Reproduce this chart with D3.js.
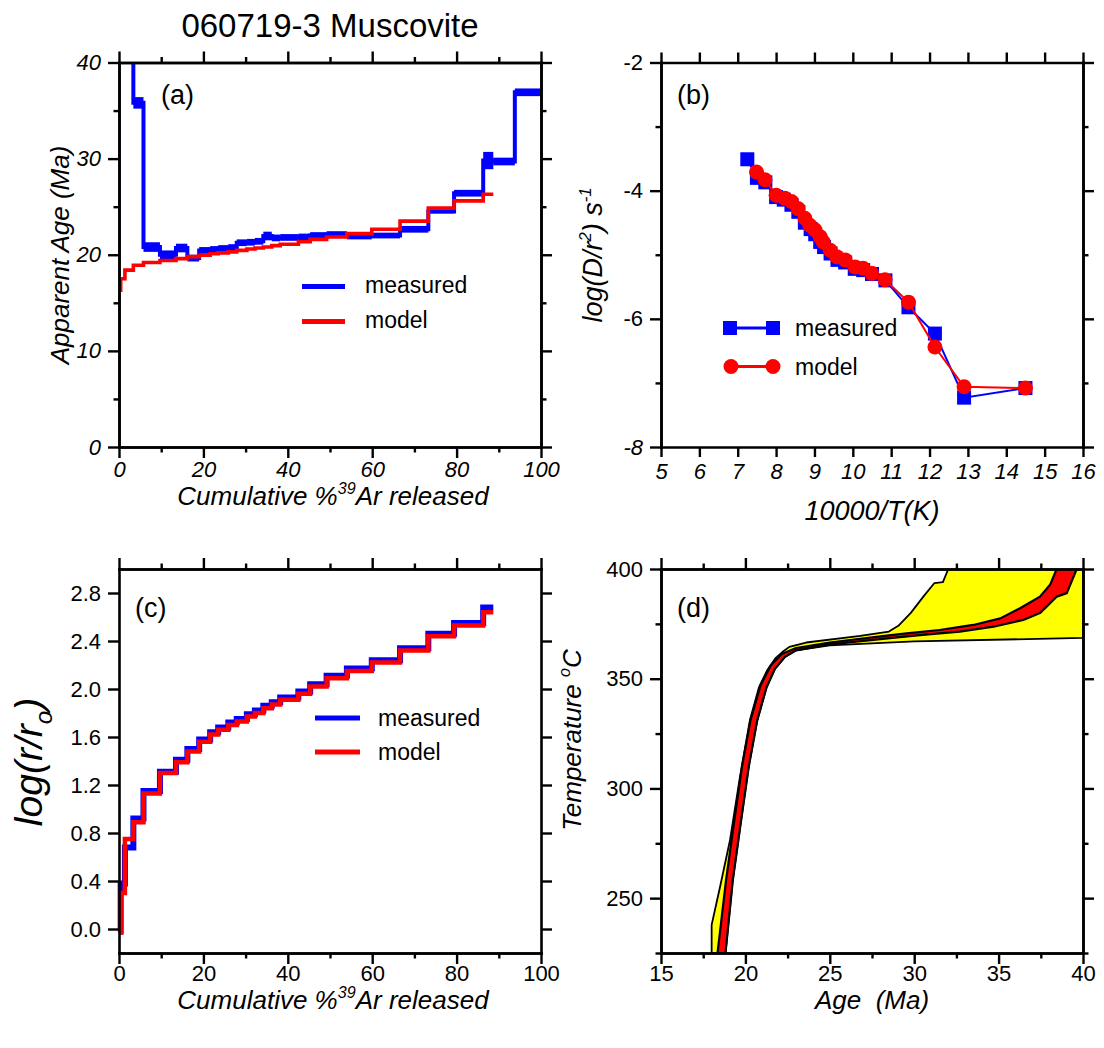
<!DOCTYPE html>
<html><head><meta charset="utf-8">
<script src="https://cdn.jsdelivr.net/npm/d3@7"></script>
<style>
body{margin:0;background:#fff;}
svg text{font-family:"Liberation Sans",Arial,Helvetica,sans-serif;fill:#000;}
</style></head><body>
<script>
// ---- Step-heating data: cumulative % 39Ar released at the step edges ----
const stepEdges = [0,0.4,1.4,3.4,5.8,9.7,13.5,16.2,19.0,21.6,23.5,25.9,27.9,30.3,32.2,34.2,36.2,38.2,42.5,45.3,49.2,54.0,59.9,66.6,73.3,79.4,86.3,88.7,93.8,100];
// measured apparent ages (Ma) and 1-sigma errors, one per step
const measuredAge = [48,46,44,35.8,20.8,20.0,20.7,19.65,20.45,20.55,20.65,20.75,21.25,21.3,21.4,21.95,21.75,21.8,21.85,22.0,22.1,21.95,22.0,22.65,24.5,26.4,29.8,29.7,36.9];
const measuredErr = [1,1,1,0.6,0.5,0.45,0.45,0.35,0.35,0.35,0.35,0.35,0.35,0.35,0.35,0.45,0.35,0.35,0.35,0.35,0.35,0.35,0.3,0.35,0.2,0.35,0.9,0.4,0.4];
// model ages (Ma) for the modelled steps
const modelAge = [16.3,17.5,18.4,18.9,19.2,19.4,19.6,19.8,19.95,20.1,20.2,20.3,20.45,20.6,20.7,20.8,20.95,21.1,21.35,21.6,21.85,22.2,22.65,23.5,24.85,25.6,26.3];
// log(r/ro) per modelled step
const measuredLogR = [-0.02,0.38,0.68,0.92,1.15,1.31,1.41,1.50,1.58,1.64,1.68,1.72,1.75,1.79,1.82,1.86,1.89,1.93,1.98,2.04,2.11,2.17,2.24,2.34,2.46,2.55,2.68];
const modelLogR = [-0.03,0.30,0.75,0.89,1.13,1.30,1.39,1.48,1.56,1.62,1.66,1.70,1.73,1.77,1.80,1.84,1.87,1.91,1.96,2.02,2.09,2.15,2.22,2.32,2.44,2.53,2.64];

// ---- Arrhenius data ----
const measuredInvT = [7.25,7.5,7.72,8.0,8.2,8.4,8.58,8.75,8.9,9.02,9.15,9.25,9.42,9.6,9.8,10.05,10.27,10.5,10.85,11.45,12.14,12.9,14.5];
const measuredLogD = [-3.51,-3.8,-3.87,-4.1,-4.14,-4.22,-4.33,-4.5,-4.6,-4.68,-4.8,-4.88,-4.98,-5.08,-5.12,-5.22,-5.24,-5.3,-5.4,-5.82,-6.23,-7.23,-7.08];
const modelInvT = [7.49,7.71,8.0,8.23,8.4,8.57,8.75,8.88,9.01,9.15,9.23,9.41,9.58,9.8,10.06,10.27,10.49,10.84,11.45,12.14,12.9,14.5];
const modelLogD = [-3.71,-3.83,-4.07,-4.12,-4.17,-4.28,-4.43,-4.54,-4.61,-4.72,-4.80,-4.93,-5.03,-5.08,-5.19,-5.21,-5.29,-5.39,-5.74,-6.44,-7.06,-7.08];

// ---- Thermal history envelopes: [age Ma, temperature C] ----
const goodFitAge  = [18.0,18.0,18.5,19.09,19.68,20.27,20.8,21.3,21.8,22.25,22.6,23.6,26.8,28.5,29.06,29.8,30.6,31.2,31.7,32.02,40,40,30,25,23,22.35,21.75,21.25,20.7,20.2,19.7,19.25,18.82];
const goodFitTemp = [225,237.8,255.2,276.5,305.4,331.2,346,354,359.5,362.5,364.5,366.5,369.5,371.5,374.1,380,388,393.6,394,400,400,368.6,367,365.2,362.9,360,354.5,346,331,310,283,258,225];
const bestFitAge  = [18.35,18.85,19.3,19.8,20.3,20.9,21.5,22.15,23,25,28,29.55,31.5,33.5,35.1,36.27,37.45,38.05,38.44,39.63,39.04,38.44,37.45,36.46,34.7,32.7,30.5,28.57,25,23,22.35,21.75,21.25,20.7,20.2,19.7,19.25,18.82];
const bestFitTemp = [225,258,283,310,331,347,356,361.3,364,366.5,369.3,370.7,372.2,374.5,377.5,382.1,387.4,392.8,400,400,389,387.4,379.9,376.8,373.7,371.5,370,368.5,365.6,362.9,360,354.5,346,331,310,283,258,225];

// ---- tick values ----
const ticksA_xMajor = [0,20,40,60,80,100], ticksA_xMinor = [10,30,50,70,90];
const ticksA_yMajor = [0,10,20,30,40], ticksA_yMinor = [5,15,25,35];
const ticksB_x = [5,6,7,8,9,10,11,12,13,14,15,16];
const ticksB_yMajor = [-8,-6,-4,-2], ticksB_yMinor = [-7,-5,-3];
const ticksC_y = [0,0.4,0.8,1.2,1.6,2.0,2.4,2.8];
const ticksD_xMajor = [15,20,25,30,35,40], ticksD_xMinor = [17.5,22.5,27.5,32.5,37.5];
const ticksD_yMajor = [250,300,350,400], ticksD_yMinor = [225,275,325,375];

const BLUE = "#0000ff", RED = "#ff0000", YELLOW = "#ffff00";
const W = 1104, H = 1048;
const svg = d3.select("body").append("svg").attr("width", W).attr("height", H);

// panel frames
const PA = {l:119, r:541, t:62.5, b:447};
const PB = {l:661, r:1083, t:62.5, b:447};
const PC = {l:119, r:541, t:569, b:953};
const PD = {l:661, r:1083, t:569, b:953};

const TICK_FONT = 22;
const plain = d => String(d);

function addAxis(kind, scale, tx, ty, values, size, opts) {
  opts = opts || {};
  const ax = d3[kind](scale).tickValues(values).tickSizeInner(size).tickSizeOuter(0)
    .tickPadding(opts.pad != null ? opts.pad : 5);
  if (!opts.labels) ax.tickFormat("");
  else ax.tickFormat(opts.fmt || plain);
  const a = svg.append("g").attr("transform", `translate(${tx},${ty})`).call(ax);
  a.attr("font-size", null).attr("font-family", null);
  a.select(".domain").attr("stroke", "#000").attr("stroke-width", 2.6).attr("stroke-linecap", "square");
  a.selectAll(".tick line").attr("stroke", "#000").attr("stroke-width", 2.4);
  a.selectAll(".tick text").attr("font-size", TICK_FONT)
    .style("font-style", d => (opts.italic && opts.italic(d)) ? "italic" : "normal");
  return a;
}

function frame(P, x, y, cfg) {
  addAxis("axisBottom", x, 0, P.b, cfg.xMajor, cfg.xMajorSize || 11, {labels:true, fmt:cfg.xFmt, italic:cfg.xItalic, pad:cfg.xPad});
  if (cfg.xMinor) addAxis("axisBottom", x, 0, P.b, cfg.xMinor, 5.5);
  addAxis("axisTop", x, 0, P.t, cfg.xMajor, cfg.xMajorSize || 11);
  if (cfg.xMinor) addAxis("axisTop", x, 0, P.t, cfg.xMinor, 5.5);
  addAxis("axisLeft", y, P.l, 0, cfg.yMajor, 11, {labels:true, fmt:cfg.yFmt, italic:cfg.yItalic, pad:cfg.yPad});
  if (cfg.yMinor) addAxis("axisLeft", y, P.l, 0, cfg.yMinor, 5.5);
  addAxis("axisRight", y, P.r, 0, cfg.yMajor, 11);
  if (cfg.yMinor) addAxis("axisRight", y, P.r, 0, cfg.yMinor, 5.5);
}

function clip(id, P) {
  svg.append("clipPath").attr("id", id).append("rect")
    .attr("x", P.l).attr("y", P.t).attr("width", P.r - P.l).attr("height", P.b - P.t);
}

function stepPoints(vals) {
  const pts = vals.map((v, i) => [stepEdges[i], v]);
  pts.push([stepEdges[vals.length], vals[vals.length - 1]]);
  return pts;
}

function text(x, y, str, size, opts) {
  opts = opts || {};
  const t = svg.append("text").attr("x", x).attr("y", y).attr("font-size", size)
    .attr("text-anchor", opts.anchor || "start").style("white-space", "pre");
  if (str) t.text(str);
  if (opts.italic) t.style("font-style", "italic");
  if (opts.rotate) t.attr("transform", `rotate(-90,${x},${y})`);
  return t;
}

function richText(x, y, parts, size, opts) {
  const t = text(x, y, "", size, opts);
  parts.forEach(p => {
    const s = t.append("tspan").text(p.t);
    if (p.sup) s.attr("font-size", size * 0.62).attr("dy", -size * 0.42);
    if (p.sub) s.attr("font-size", size * 0.62).attr("dy", size * 0.25);
    if (p.back) s.attr("dy", p.back * size);
  });
  return t;
}

// ---- title ----
text(330, 37, "060719-3 Muscovite", 33, {anchor:"middle"});

// ================= (a) age spectrum =================
const xA = d3.scaleLinear().domain([0, 100]).range([PA.l, PA.r]);
const yA = d3.scaleLinear().domain([0, 40]).range([PA.b, PA.t]);
clip("clipA", PA);
const gA = svg.append("g").attr("clip-path", "url(#clipA)");
gA.selectAll("rect.meas").data(measuredAge).enter().append("rect")
  .attr("x", (d, i) => xA(stepEdges[i]))
  .attr("width", (d, i) => xA(stepEdges[i + 1]) - xA(stepEdges[i]))
  .attr("y", (d, i) => yA(d + measuredErr[i]))
  .attr("height", (d, i) => yA(d - measuredErr[i]) - yA(d + measuredErr[i]))
  .attr("fill", BLUE);
const stepLineA = d3.line().x(d => xA(d[0])).y(d => yA(d[1])).curve(d3.curveStepAfter);
gA.append("path").attr("d", stepLineA(stepPoints(measuredAge)))
  .attr("fill", "none").attr("stroke", BLUE).attr("stroke-width", 4);
gA.append("path").attr("d", stepLineA(stepPoints(modelAge)))
  .attr("fill", "none").attr("stroke", RED).attr("stroke-width", 3.6);

frame(PA, xA, yA, {xMajor:ticksA_xMajor, xMinor:ticksA_xMinor, yMajor:ticksA_yMajor, yMinor:ticksA_yMinor,
  xItalic:() => true, yItalic:() => true, xPad:3, yPad:7});
text(161, 104, "(a)", 27);
// legend
svg.append("line").attr("x1", 302).attr("x2", 345).attr("y1", 286.5).attr("y2", 286.5).attr("stroke", BLUE).attr("stroke-width", 5);
svg.append("line").attr("x1", 302).attr("x2", 345).attr("y1", 321.5).attr("y2", 321.5).attr("stroke", RED).attr("stroke-width", 5);
text(365, 293, "measured", 23);
text(365, 328, "model", 23);
// axis titles
text(69, 255, "Apparent Age (Ma)", 26, {anchor:"middle", italic:true, rotate:true});
richText(333, 505, [{t:"Cumulative %"}, {t:"39", sup:true}, {t:"Ar released", back:0.42}], 26, {anchor:"middle", italic:true});

// ================= (b) Arrhenius plot =================
const xB = d3.scaleLinear().domain([5, 16]).range([PB.l, PB.r]);
const yB = d3.scaleLinear().domain([-8, -2]).range([PB.b, PB.t]);
const lineB = d3.line().x(d => xB(d[0])).y(d => yB(d[1]));
const measPts = measuredInvT.map((v, i) => [v, measuredLogD[i]]);
const modPts = modelInvT.map((v, i) => [v, modelLogD[i]]);
svg.append("path").attr("d", lineB(measPts)).attr("fill", "none").attr("stroke", BLUE).attr("stroke-width", 2);
svg.selectAll("rect.sq").data(measPts).enter().append("rect")
  .attr("x", d => xB(d[0]) - 7).attr("y", d => yB(d[1]) - 7).attr("width", 14).attr("height", 14).attr("fill", BLUE);
svg.append("path").attr("d", lineB(modPts)).attr("fill", "none").attr("stroke", RED).attr("stroke-width", 2);
svg.selectAll("circle.md").data(modPts).enter().append("circle")
  .attr("cx", d => xB(d[0])).attr("cy", d => yB(d[1])).attr("r", 7.5).attr("fill", RED);

frame(PB, xB, yB, {xMajor:ticksB_x, xMajorSize:10, yMajor:ticksB_yMajor, yMinor:ticksB_yMinor,
  xItalic:() => true, yItalic:d => d === -8, xPad:6, yPad:7});
text(677, 104, "(b)", 27);
// legend
svg.append("line").attr("x1", 730).attr("x2", 773).attr("y1", 328).attr("y2", 328).attr("stroke", BLUE).attr("stroke-width", 3);
[730, 773].forEach(x => svg.append("rect").attr("x", x - 7).attr("y", 321).attr("width", 14).attr("height", 14).attr("fill", BLUE));
svg.append("line").attr("x1", 731).attr("x2", 773).attr("y1", 366.5).attr("y2", 366.5).attr("stroke", RED).attr("stroke-width", 3);
[731, 773].forEach(x => svg.append("circle").attr("cx", x).attr("cy", 366.5).attr("r", 7.5).attr("fill", RED));
text(795, 336, "measured", 23);
text(795, 375, "model", 23);
// axis titles
richText(602, 255, [{t:"log(D/r"}, {t:"2", sup:true}, {t:") s", back:0.42}, {t:"-1", sup:true}], 27, {anchor:"middle", italic:true, rotate:true});
text(872, 520, "10000/T(K)", 27, {anchor:"middle", italic:true});

// ================= (c) log(r/ro) =================
const xC = d3.scaleLinear().domain([0, 100]).range([PC.l, PC.r]);
const yC = d3.scaleLinear().domain([-0.2, 3.0]).range([PC.b, PC.t]);
const stepLineC = d3.line().x(d => xC(d[0])).y(d => yC(d[1])).curve(d3.curveStepAfter);
svg.append("path").attr("d", stepLineC(stepPoints(measuredLogR)))
  .attr("fill", "none").attr("stroke", BLUE).attr("stroke-width", 6);
svg.append("path").attr("d", stepLineC(stepPoints(modelLogR)))
  .attr("fill", "none").attr("stroke", RED).attr("stroke-width", 4.5);

frame(PC, xC, yC, {xMajor:ticksA_xMajor, xMinor:ticksA_xMinor, yMajor:ticksC_y, yFmt:d3.format(".1f"), xPad:1, yPad:7});
text(135, 617, "(c)", 27);
svg.append("line").attr("x1", 315).attr("x2", 360).attr("y1", 718).attr("y2", 718).attr("stroke", BLUE).attr("stroke-width", 5);
svg.append("line").attr("x1", 315).attr("x2", 360).attr("y1", 752).attr("y2", 752).attr("stroke", RED).attr("stroke-width", 5);
text(378, 726, "measured", 23);
text(378, 760, "model", 23);
richText(42, 762, [{t:"log(r/r"}, {t:"o", sub:true}, {t:")", back:-0.25}], 39, {anchor:"middle", italic:true, rotate:true});
richText(333, 1009, [{t:"Cumulative %"}, {t:"39", sup:true}, {t:"Ar released", back:0.42}], 26, {anchor:"middle", italic:true});

// ================= (d) thermal history =================
const xD = d3.scaleLinear().domain([15, 40]).range([PD.l, PD.r]);
const yD = d3.scaleLinear().domain([225, 400]).range([PD.b, PD.t]);
clip("clipD", PD);
const gD = svg.append("g").attr("clip-path", "url(#clipD)");
const areaLine = d3.line().x(d => xD(d[0])).y(d => yD(d[1]));
gD.append("path").attr("d", areaLine(goodFitAge.map((a, i) => [a, goodFitTemp[i]])) + "Z")
  .attr("fill", YELLOW).attr("stroke", "#000").attr("stroke-width", 1.8).attr("stroke-linejoin", "round");
gD.append("path").attr("d", areaLine(bestFitAge.map((a, i) => [a, bestFitTemp[i]])) + "Z")
  .attr("fill", RED).attr("stroke", "#000").attr("stroke-width", 2.2).attr("stroke-linejoin", "round");

frame(PD, xD, yD, {xMajor:ticksD_xMajor, xMinor:ticksD_xMinor, yMajor:ticksD_yMajor, yMinor:ticksD_yMinor, xPad:1, yPad:7});
text(677, 617, "(d)", 27);
richText(581, 740, [{t:"Temperature "}, {t:"o", sup:true}, {t:"C", back:0.42}], 26, {anchor:"middle", italic:true, rotate:true});
text(872, 1009, "Age  (Ma)", 26, {anchor:"middle", italic:true});
</script>
</body></html>
